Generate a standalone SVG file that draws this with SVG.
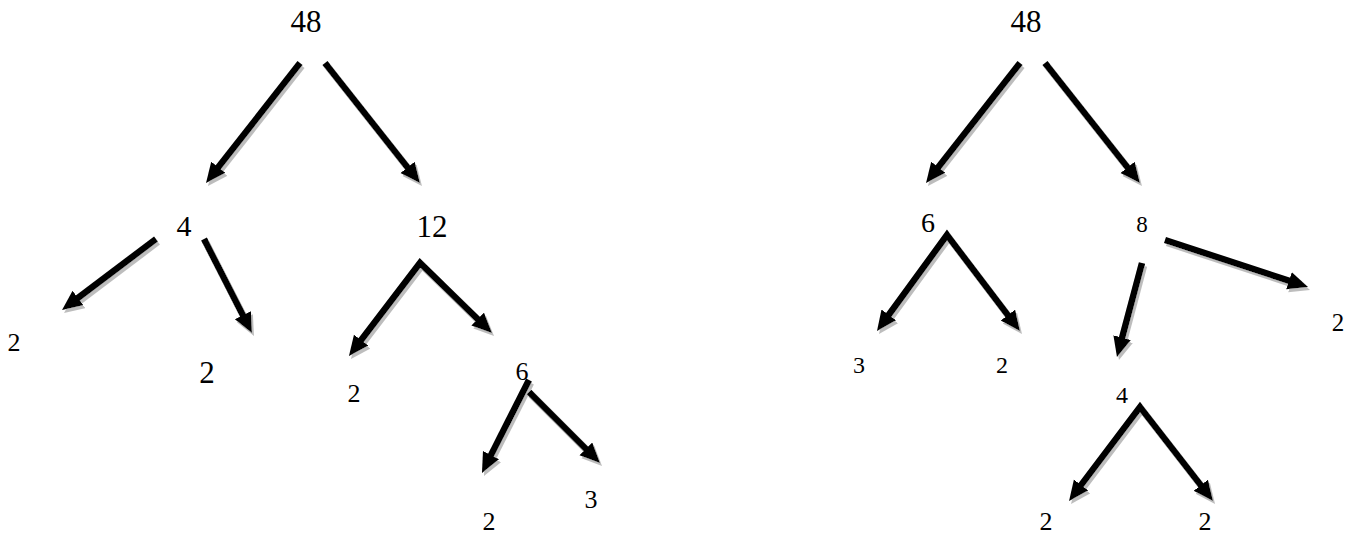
<svg xmlns="http://www.w3.org/2000/svg" width="1347" height="535" viewBox="0 0 1347 535">
<style>
text{font-family:"Liberation Serif","Times New Roman",Times,serif;fill:#000;text-anchor:middle}
.c path{fill:none;stroke:#000;stroke-width:6.5;stroke-linejoin:miter;marker-end:url(#ah)}
.c path.v{marker-start:url(#ahs)}
</style>
<defs>
<marker id="ah" markerUnits="userSpaceOnUse" markerWidth="22" markerHeight="20" refX="2" refY="9" orient="auto"><path d="M0,0 L20,9 L0,18 Z" fill="#000"/></marker>
<marker id="ahs" markerUnits="userSpaceOnUse" markerWidth="22" markerHeight="20" refX="2" refY="9" orient="auto-start-reverse"><path d="M0,0 L20,9 L0,18 Z" fill="#000"/></marker>
<filter id="sh" filterUnits="userSpaceOnUse" x="0" y="0" width="1347" height="535">
<feFlood flood-color="#bdbdbd"/>
<feComposite in2="SourceAlpha" operator="in"/>
<feOffset dx="2" dy="3"/>
<feMerge><feMergeNode/><feMergeNode in="SourceGraphic"/></feMerge>
</filter>
</defs>
<rect width="1347" height="535" fill="#fff"/>
<g id="connectors" class="c" filter="url(#sh)">
<path d="M300,63 L217.1,168.8"/>
<path d="M325,63 L408.8,168.9"/>
<path d="M156,239 L76.4,299.2"/>
<path d="M204,239 L243.8,317"/>
<path class="v" d="M359.9,341.7 L420,263 L479.1,320.5"/>
<path d="M529,380 L490.1,456.9"/>
<path d="M529,392 L587.3,450.3"/>
<path d="M1020,63 L937.1,168.8"/>
<path d="M1045,63 L1128.8,168.9"/>
<path class="v" d="M887.6,316.5 L947,235 L1009.1,316.7"/>
<path d="M1142,263 L1121.6,339.6"/>
<path d="M1165,240 L1290.9,281.4"/>
<path class="v" d="M1079.9,486.6 L1140,407 L1202,486.8"/>
</g>
<g id="n-l48"><text x="306" y="32" font-size="31">48</text></g>
<g id="n-l4"><text x="184" y="236" font-size="30">4</text></g>
<g id="n-l12"><text x="432" y="237" font-size="31">12</text></g>
<g id="n-l2a"><text x="14" y="351" font-size="26">2</text></g>
<g id="n-l2b"><text x="207" y="383" font-size="31">2</text></g>
<g id="n-l2c"><text x="354" y="402" font-size="26">2</text></g>
<g id="n-l6"><text x="522" y="380" font-size="26">6</text></g>
<g id="n-l3"><text x="591" y="508" font-size="26">3</text></g>
<g id="n-l2d"><text x="489" y="530" font-size="26">2</text></g>
<g id="n-r48"><text x="1026" y="32" font-size="31">48</text></g>
<g id="n-r6"><text x="928" y="232" font-size="28">6</text></g>
<g id="n-r8"><text x="1142" y="232" font-size="23">8</text></g>
<g id="n-r3"><text x="859" y="373" font-size="24">3</text></g>
<g id="n-r2a"><text x="1002" y="373" font-size="24">2</text></g>
<g id="n-r2b"><text x="1338" y="331" font-size="25">2</text></g>
<g id="n-r4"><text x="1122" y="403" font-size="24">4</text></g>
<g id="n-r2c"><text x="1046" y="530" font-size="26">2</text></g>
<g id="n-r2d"><text x="1205" y="530" font-size="26">2</text></g>
</svg>
